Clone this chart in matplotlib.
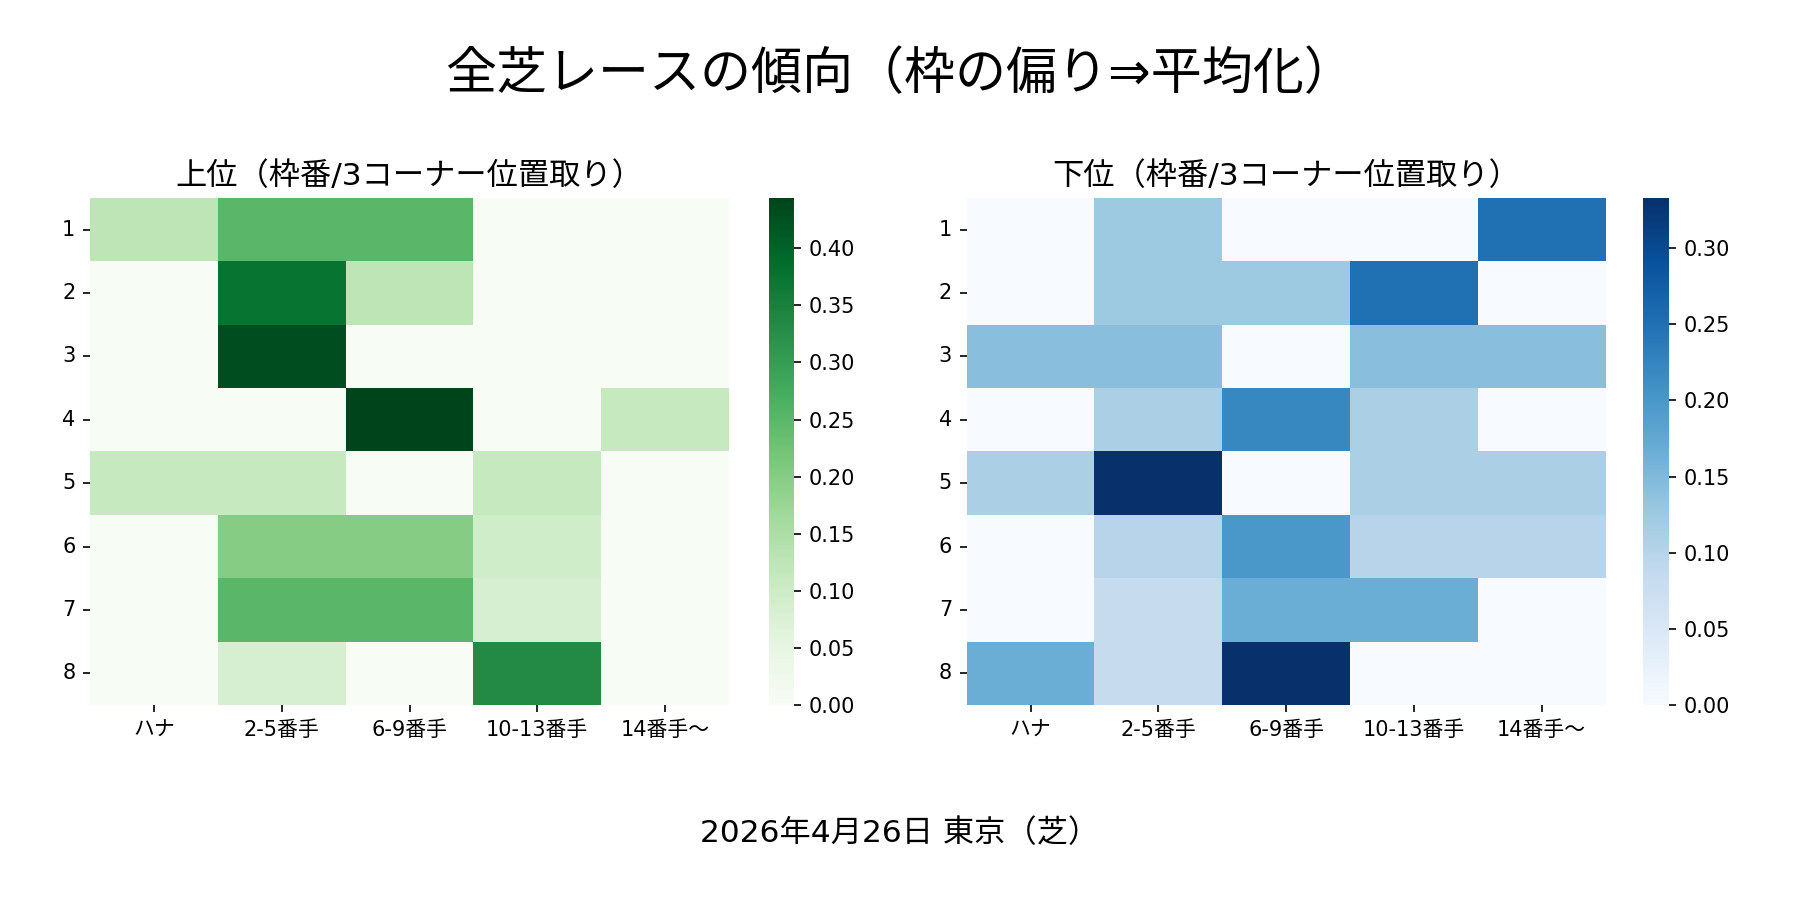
import matplotlib
matplotlib.use("Agg")
import matplotlib.pyplot as plt
import numpy as np
import seaborn as sns

plt.rcParams['font.family'] = ['DejaVu Sans', 'Noto Sans CJK JP']

# rows = 枠番 1-8, cols = 3コーナー位置取り
frames = ["1", "2", "3", "4", "5", "6", "7", "8"]
positions = ["ハナ", "2-5番手", "6-9番手", "10-13番手", "14番手〜"]

top_rate = [
    [0.125, 0.25, 0.25, 0.0, 0.0],
    [0.0, 0.375, 0.125, 0.0, 0.0],
    [0.0, 0.43, 0.0, 0.0, 0.0],
    [0.0, 0.0, 0.444, 0.0, 0.111],
    [0.111, 0.111, 0.0, 0.111, 0.0],
    [0.0, 0.2, 0.2, 0.095, 0.0],
    [0.0, 0.25, 0.25, 0.083, 0.0],
    [0.0, 0.083, 0.0, 0.333, 0.0],
]
low_rate = [
    [0.0, 0.125, 0.0, 0.0, 0.25],
    [0.0, 0.125, 0.125, 0.25, 0.0],
    [0.143, 0.143, 0.0, 0.143, 0.143],
    [0.0, 0.111, 0.222, 0.111, 0.0],
    [0.111, 0.333, 0.0, 0.111, 0.111],
    [0.0, 0.1, 0.2, 0.1, 0.1],
    [0.0, 0.083, 0.167, 0.167, 0.0],
    [0.167, 0.083, 0.333, 0.0, 0.0],
]

title = "全芝レースの傾向（枠の偏り⇒平均化）"
footer = "2026年4月26日 東京（芝）"

fig = plt.figure(figsize=(12, 6), dpi=150)
ax1 = fig.add_axes([0.050, 0.2167, 0.355, 0.5633])
cax1 = fig.add_axes([0.427, 0.2167, 0.014, 0.5633])
ax2 = fig.add_axes([0.537, 0.2167, 0.355, 0.5633])
cax2 = fig.add_axes([0.913, 0.2167, 0.014, 0.5633])

for ax, cax, data, cmap, ttl in [
        (ax1, cax1, top_rate, "Greens", "上位（枠番/3コーナー位置取り）"),
        (ax2, cax2, low_rate, "Blues", "下位（枠番/3コーナー位置取り）")]:
    sns.heatmap(np.array(data), ax=ax, cbar_ax=cax, cmap=cmap,
                xticklabels=positions, yticklabels=frames)
    ax.set_title(ttl, fontsize=15)
    ax.tick_params(axis="both", labelsize=10)
    ax.set_yticklabels(frames, rotation=0)
    ax.set_xticklabels(positions, rotation=0)
    cax.tick_params(labelsize=10)

fig.suptitle(title, fontsize=24.5, y=0.944)
fig.text(0.5, 0.074, footer, ha="center", va="center", fontsize=15)
fig.savefig("out.png", dpi=150, facecolor="white")
